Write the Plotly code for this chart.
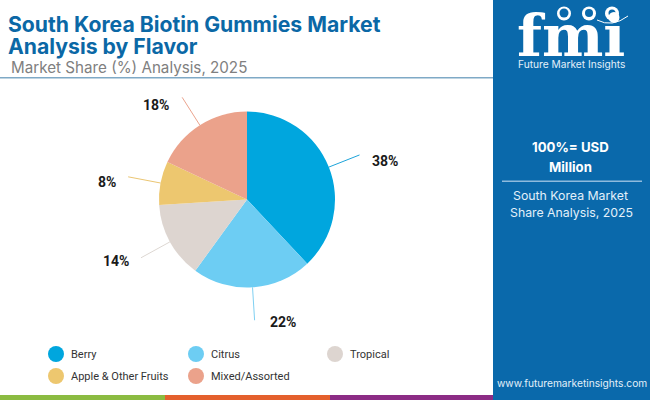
import math
import plotly.graph_objects as go

# data
flavors = ["Berry", "Citrus", "Tropical", "Apple & Other Fruits", "Mixed/Assorted"]
shares = [38, 22, 14, 8, 18]
colors = ["#00A6DE", "#6DCDF3", "#DDD5D0", "#EDC76F", "#EBA28B"]
line_colors = ["#1DA4DA", "#7FD0F2", "#DDD7D2", "#EBC673", "#EBA48E"]

W, H = 650, 400
cx, cy, radius = 247, 199.5, 88
panel_blue = "#0A69AB"
title_blue = "#0B68A6"


def px(x):
    return x / W


def py(y):
    return 1 - y / H


def add_text(fig, x, y, text, size, color, family="Inter", anchor="left", weight=None):
    if weight:
        text = "<b>" + text + "</b>"
    fig.add_annotation(
        x=px(x), y=py(y), xref="paper", yref="paper", text=text, showarrow=False,
        xanchor=anchor, yanchor="middle", align=anchor,
        font=dict(size=size, color=color, family=family),
    )


fig = go.Figure(
    go.Pie(
        labels=flavors,
        values=shares,
        sort=False,
        direction="clockwise",
        rotation=0,
        textinfo="none",
        hoverinfo="label+percent",
        showlegend=False,
        marker=dict(colors=colors, line=dict(width=0)),
        domain=dict(
            x=[px(cx - radius), px(cx + radius)],
            y=[py(cy + radius), py(cy - radius)],
        ),
    )
)

shapes = []


def rect(x0, y0, x1, y1, color, layer="below"):
    shapes.append(dict(
        type="rect", xref="paper", yref="paper", x0=px(x0), x1=px(x1),
        y0=py(y1), y1=py(y0), fillcolor=color, line_width=0, layer=layer,
    ))


def circle(x, y, r, color):
    shapes.append(dict(
        type="circle", xref="paper", yref="paper", x0=px(x - r), x1=px(x + r),
        y0=py(y + r), y1=py(y - r), fillcolor=color, line_width=0,
    ))


# right panel, footer stripes, title rule
rect(493, 0, 650, 400, panel_blue)
rect(0, 395, 165, 400, "#8BBB41")
rect(165, 395, 330, 400, "#E4602D")
rect(330, 395, 493, 400, "#8C2C85")
rect(0, 77, 493, 78.5, "#7FA9C6")
rect(502, 180.5, 642, 182, "#8FBBDD")

# leader lines and value labels, angle comes from the shares
label_pos = [(384.5, 161), (282.5, 322), (116, 261), (107, 182), (156, 105)]
start = 0
for share, color, pos in zip(shares, line_colors, label_pos):
    mid = (start + share / 2) / sum(shares) * 2 * math.pi
    start += share
    sx, sy = math.sin(mid), -math.cos(mid)
    shapes.append(dict(
        type="line", xref="paper", yref="paper",
        x0=px(cx + radius * sx), y0=py(cy + radius * sy),
        x1=px(cx + 121 * sx), y1=py(cy + 121 * sy),
        line=dict(color=color, width=1),
    ))
    add_text(fig, pos[0], pos[1], f"{share}%", 14, "#1A1A1A", "Roboto", "center", True)

# legend
legend_pos = [(56, 354), (196, 354), (335, 354), (56, 376), (196, 376)]
for name, color, pos in zip(flavors, colors, legend_pos):
    circle(pos[0], pos[1], 8, color)
    add_text(fig, pos[0] + 12.5, pos[1], name, 11, "#333333", "Roboto")

# headings
add_text(fig, 6, 24, "South Korea Biotin Gummies Market", 21.2, title_blue, "Inter", weight=True)
add_text(fig, 6, 46, "Analysis by Flavor", 21.2, title_blue, "Inter", weight=True)
add_text(fig, 9, 67.5, "Market Share (%) Analysis, 2025", 15.2, "#808080", "Inter")

# right panel texts
add_text(fig, 570, 147, "100%= USD", 13.2, "white", "Inter", "center", True)
add_text(fig, 570, 167, "Million", 13.2, "white", "Inter", "center", True)
add_text(fig, 570, 195, "South Korea Market", 12.3, "#E3F0FA", "Inter", "center")
add_text(fig, 571, 212, "Share Analysis, 2025", 12.3, "#E3F0FA", "Inter", "center")
add_text(fig, 572, 383, "www.futuremarketinsights.com", 10.2, "#E3F0FA", "Inter", "center", None)

# logo
add_text(fig, 571, 36, "fmi", 58, "white", "DejaVu Serif", "center", True)
for y in range(14, 58, 4):
    rect(510, y, 635, y + 1, panel_blue, layer="above")
rect(600, 10, 626, 26, panel_blue, layer="above")
for x, blob in zip([564, 589, 612], [4.5, 4, 3.5]):
    circle(x, 13.5, 7, "white")
    circle(x, 13, blob, panel_blue)
shapes.append(dict(
    type="path", xref="paper", yref="paper",
    path=f"M {px(597)} {py(20)} Q {px(612)} {py(28)} {px(628)} {py(16)}",
    line=dict(color="white", width=1),
))
add_text(fig, 571, 64, "Future Market Insights", 10.2, "#E3F0FA", "Inter", "center")

fig.update_layout(
    width=W,
    height=H,
    margin=dict(l=0, r=0, t=0, b=0),
    paper_bgcolor="white",
    plot_bgcolor="white",
    shapes=shapes,
)
fig.write_html("out.html", config=dict(displayModeBar=False),
               post_script="document.body.style.margin='0';")
